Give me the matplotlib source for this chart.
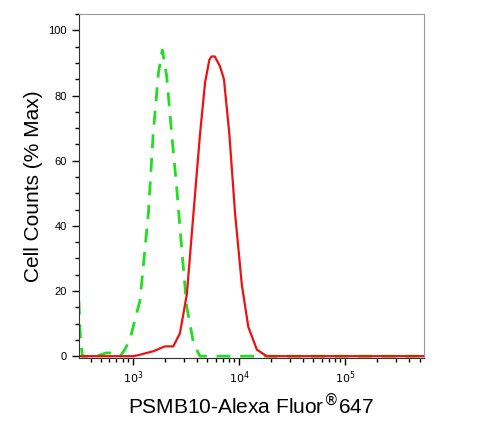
import matplotlib
matplotlib.use("Agg")
import matplotlib.pyplot as plt
from matplotlib.ticker import LogLocator, MultipleLocator, NullFormatter

plt.rcParams['font.family'] = ['Liberation Sans', 'DejaVu Sans']

green_x = [310, 320, 335, 450, 560, 650, 760, 838, 935, 1165, 1400, 1550, 1740, 1890, 2080, 2320, 2580, 2880, 3220, 3720, 4280, 9000, 12000, 5.5e5]
green_y = [17, 6, 0, 0, 1, 1, 0, 2, 5, 17, 44, 68, 87, 94, 86, 68, 52, 33, 15, 4, 0, 0, 0, 0]
red_x = [310, 1000, 1120, 1550, 2000, 2400, 2770, 3220, 3720, 4280, 4780, 5250, 5500, 5900, 6600, 7200, 8100, 9150, 10600, 12200, 14700, 18200, 5.5e5]
red_y = [0, 0, 0.3, 1.5, 3, 3, 7, 19, 44, 68, 84, 91, 92, 92, 89, 85, 68, 44, 22, 9, 2, 0, 0]

fig = plt.figure(figsize=(4.78, 4.28), dpi=100)
ax = fig.add_axes([0.165, 0.164, 0.722, 0.803])
ax.plot(green_x, green_y, color='#22dd22', lw=2, ls=(0, (5, 3.5)))
ax.plot(red_x, red_y, color='#ee1111', lw=1.6)
ax.set_xscale('log')
ax.set_xlim(310, 5.5e5)
ax.set_ylim(-0.5, 105)
ax.set_xticks([1e3, 1e4, 1e5])
ax.set_xticklabels([r'$10^3$', r'$10^4$', r'$10^5$'])
ax.xaxis.set_minor_locator(LogLocator(base=10, subs=range(2, 10)))
ax.xaxis.set_minor_formatter(NullFormatter())
ax.set_yticks([0, 20, 40, 60, 80, 100])
ax.yaxis.set_minor_locator(MultipleLocator(5))
ax.tick_params(axis='both', which='major', labelsize=8, length=5, width=1)
ax.tick_params(axis='both', which='minor', length=3, width=1)
for s in ['top', 'right']:
    ax.spines[s].set_color('#999999')
    ax.spines[s].set_linewidth(0.8)
for s in ['left', 'bottom']:
    ax.spines[s].set_color('#333333')
ax.set_ylabel('Cell Counts (% Max)', fontsize=15)
ax.set_xlabel('PSMB10-Alexa Fluor$^{\u00ae}$647', fontsize=15)
fig.savefig('out.png', dpi=100)
